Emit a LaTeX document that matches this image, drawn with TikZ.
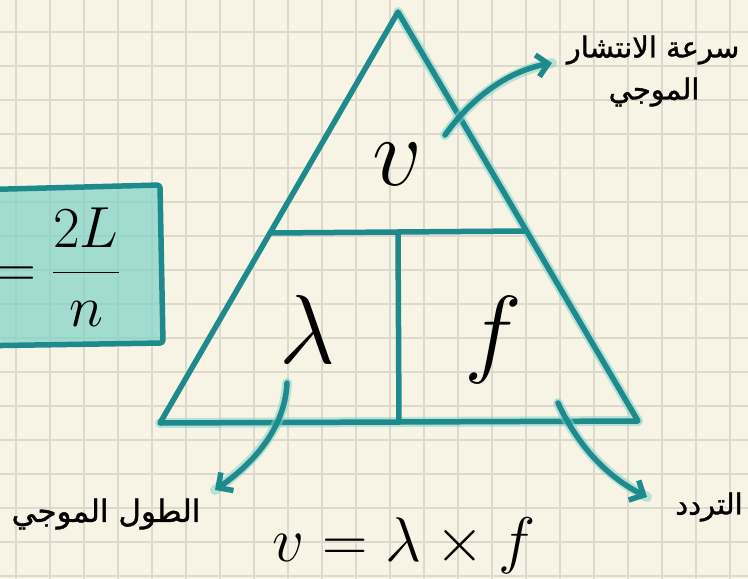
\RequirePackage{fix-cm}
\documentclass[tikz,border=0pt]{standalone}
\usepackage{fontspec}
\newfontfamily\arabicfont[Script=Arabic, FakeBold=1.2]{DejaVu Sans}
\TeXXeTstate=1
\usetikzlibrary{arrows.meta}
\definecolor{Teal}{HTML}{1E8A8C}
\definecolor{LTeal}{HTML}{86D3CB}
\definecolor{BoxFill}{HTML}{7FD1C6}
\definecolor{Paper}{HTML}{F7F4E6}
\definecolor{GridCol}{HTML}{DCD9CE}

\begin{document}
\begin{tikzpicture}[x=1pt, y=-1pt,
    pen/.style={Teal, line width=5.5pt, line cap=round, line join=round},
    glow/.style={LTeal, line width=10pt, opacity=0.55, line cap=round, line join=round},
    arr/.style={pen, -{Straight Barb[length=11pt, width=22pt]}},
    big/.style={font=\fontsize{98}{100}\selectfont},
    ar/.style={font=\arabicfont\fontsize{29}{34}\selectfont, inner sep=0}]

    \useasboundingbox (0,0) rectangle (748,579);
    \fill[Paper] (0,0) rectangle (748,579);

    % paper grid
    \foreach \x in {16,50,...,748}
        \draw[GridCol, line width=1.3pt] (\x,0) -- (\x,579);
    \foreach \y in {32,66,...,579}
        \draw[GridCol, line width=1.3pt] (0,\y) -- (748,\y);

    % box on the left
    \begin{scope}
        \clip (0,0) rectangle (748,579);
        \draw[pen, fill=BoxFill, fill opacity=0.7, rounded corners=3pt]
            (-30,190) -- (160,185) -- (163,343) -- (-30,346) -- cycle;
        \node[anchor=base east, inner sep=0, font=\fontsize{58}{62}\selectfont]
            (len) at (120,287) {$\displaystyle =\frac{2L}{n}$};
    \end{scope}

    % triangle
    \coordinate (top) at (398,12);
    \coordinate (bl) at (160,423);
    \coordinate (br) at (638,421);
    \coordinate (ml) at (270,233);
    \coordinate (mr) at (524,231);
    \coordinate (mm) at (398,233);
    \coordinate (mb) at (399,422);

    \draw[glow, shift={(3,1)}] (top) -- (br) -- (bl);
    \draw[pen] (top) -- (bl) -- (br) -- cycle;
    \draw[pen] (ml) -- (mr);
    \draw[pen] (mm) -- (mb);

    \node[big, anchor=base] (v) at (397,185) {$v$};
    \node[big, anchor=base] (lam) at (307,363) {$\lambda$};
    \node[big, anchor=base] (f) at (493,364) {$f$};

    % labels
    \node[ar] (speed1) at (653,50) {\beginR سرعة الانتشار\endR};
    \node[ar] (speed2) at (654,92) {\beginR الموجي\endR};
    \node[ar, font=\arabicfont\fontsize{31}{34}\selectfont] (wave) at (106,514)
        {\beginR الطول الموجي\endR};
    \node[ar] (freq) at (709,507) {\beginR التردد\endR};

    % arrows
    \coordinate (s1) at (445,135);
    \coordinate (e1) at (552,63);
    \coordinate (s2) at (287,383);
    \coordinate (e2) at (215,490);
    \coordinate (s3) at (558,403);
    \coordinate (e3) at (647,497);

    \draw[glow] (s1) .. controls (470,100) and (505,72) .. (e1);
    \draw[glow] (s2) .. controls (285,425) and (258,460) .. (e2);
    \draw[glow] (s3) .. controls (580,450) and (610,478) .. (e3);
    \draw[arr] (s1) .. controls (470,100) and (505,72) .. (e1);
    \draw[arr] (s2) .. controls (285,425) and (258,460) .. (e2);
    \draw[arr] (s3) .. controls (580,450) and (610,478) .. (e3);

    % law
    \node[anchor=base, font=\fontsize{63}{66}\selectfont] (law) at (404,561)
        {$v=\lambda\times f$};

\end{tikzpicture}
\end{document}
